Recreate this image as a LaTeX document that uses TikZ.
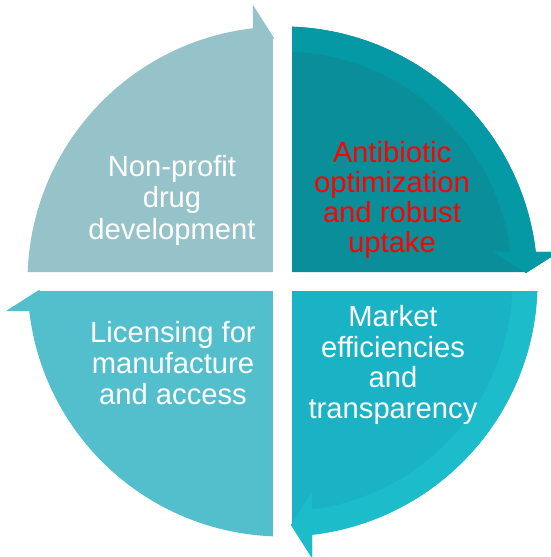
\documentclass[tikz,border=0pt]{standalone}
\usepackage{fontspec}
\setmainfont{Liberation Sans}
\definecolor{cTL}{HTML}{95C3C9}
\definecolor{cTRpie}{HTML}{0A8F9A}
\definecolor{cTRband}{HTML}{0599A6}
\definecolor{cBRpie}{HTML}{1AB2C5}
\definecolor{cBRband}{HTML}{1DBCCB}
\definecolor{cBL}{HTML}{54BFCC}
\definecolor{cRed}{HTML}{FF0000}
\tikzset{
  quadshape/.pic={
    \fill[pic actions] (-9.5,9.5) -- (-254.82,9.5)
      arc[start angle=177.865,end angle=96.643,radius=255]
      -- (-29.5,276.5) -- (-8.5,243.5) -- (-9.5,242) -- cycle;
  },
  bandshape/.pic={
    \fill[pic actions] (-254.82,9.5)
      arc[start angle=177.865,end angle=96.643,radius=255]
      -- (-29.5,276.5) -- (-8.5,243.5) -- (-29.5,210.5) -- (-29.5,228.1)
      arc[start angle=97.369,end angle=177.633,radius=230] -- cycle;
  },
  lbl/.style={align=center, font=\fontsize{29.2}{30.8}\selectfont, inner sep=0pt},
}
\begin{document}
\begin{tikzpicture}[x=1pt,y=1pt]
\useasboundingbox (-282.5,-275.5) rectangle (268.5,281.5);
% top left
\pic[fill=cTL] {quadshape};
% top right
\pic[fill=cTRpie, rotate=-90] {quadshape};
\pic[fill=cTRband, rotate=-90] {bandshape};
% bottom right
\pic[fill=cBRpie, rotate=-180] {quadshape};
\pic[fill=cBRband, rotate=-180] {bandshape};
% bottom left
\pic[fill=cBL, rotate=-270] {quadshape};
\node[lbl, text=white, font=\fontsize{29.2}{31.5}\selectfont] (tl) at (-110.5,81.5) {Non-profit\\drug\\development};
\node[lbl, text=cRed, font=\fontsize{29.2}{29.8}\selectfont] (tr) at (109.5,81.5) {Antibiotic\\optimization\\and robust\\uptake};
\node[lbl, text=white] (br) at (110.5,-83.5) {Market\\efficiencies\\and\\transparency};
\node[lbl, text=white] (bl) at (-109.5,-81.5) {Licensing for\\manufacture\\and access};
\end{tikzpicture}
\end{document}
